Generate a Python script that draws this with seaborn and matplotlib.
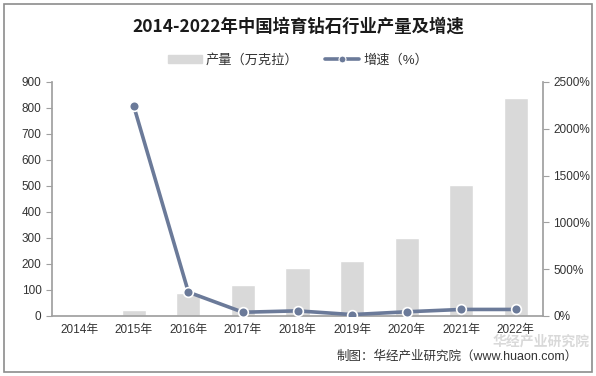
import matplotlib
matplotlib.use("Agg")
import matplotlib.pyplot as plt
import numpy as np
import pandas as pd
import seaborn as sns
from matplotlib.patches import Rectangle
from matplotlib.lines import Line2D
from matplotlib.ticker import FuncFormatter

years = ["2014年", "2015年", "2016年", "2017年", "2018年", "2019年", "2020年", "2021年", "2022年"]
output = [1, 24, 90, 120, 185, 210, 300, 505, 840]          # 万克拉
growth = [np.nan, 2240, 255, 40, 55, 15, 45, 70, 70]         # %

BAR = "#D9D9D9"
LINE = "#6B7A99"
TXT = "#333333"

sns.set_theme(style="white")
plt.rcParams["font.family"] = ["Liberation Sans", "Noto Sans CJK SC", "DejaVu Sans"]

df = pd.DataFrame({"year": years, "output": output, "growth": growth, "pos": np.arange(len(years))})

fig = plt.figure(figsize=(5.96, 3.76), dpi=100)
ax = fig.add_axes([52 / 596, 1 - 316 / 376, 491 / 596, 234 / 376])

sns.barplot(data=df, x="year", y="output", color=BAR, width=0.44, saturation=1, ax=ax)
ax.set_ylim(0, 900)
ax.set_yticks(range(0, 901, 100))
ax.set_xlim(-0.5, len(years) - 0.5)
ax.set_xlabel("")
ax.set_ylabel("")

ax2 = ax.twinx()
sns.lineplot(data=df.dropna(), x="pos", y="growth", color=LINE, linewidth=2.6,
             marker="o", markersize=7, markeredgecolor="white", markeredgewidth=1.2, ax=ax2)
ax2.set_ylim(0, 2500)
ax2.set_yticks(range(0, 2501, 500))
ax2.yaxis.set_major_formatter(FuncFormatter(lambda v, _: f"{v:.0f}%"))
ax2.set_ylabel("")
ax2.set_xlim(-0.5, len(years) - 0.5)

for a in (ax, ax2):
    for s in a.spines.values():
        s.set_visible(False)
    a.tick_params(labelsize=8.5, colors=TXT, length=4, width=0.8, direction="out")
    a.tick_params(axis="y", color="#A0A0A0")

ax.spines["left"].set_visible(True)
ax.spines["left"].set_color("#A0A0A0")
ax.spines["bottom"].set_visible(True)
ax.spines["bottom"].set_color("#A0A0A0")
ax2.spines["right"].set_visible(True)
ax2.spines["right"].set_color("#A0A0A0")

# category labels centred, tick marks on category boundaries
ax.set_xticks(np.arange(len(years)))
ax.set_xticklabels(years)
ax.tick_params(axis="x", length=0, pad=6)
ax.set_xticks(np.arange(len(years) + 1) - 0.5, minor=True)
ax.tick_params(axis="x", which="minor", length=4, color="#A0A0A0", width=0.8)

fig.text(0.5, 1 - 27 / 376, "2014-2022年中国培育钻石行业产量及增速", ha="center", va="center",
         fontsize=12.5, fontweight="bold", color="#1A1A1A",
         family=["Noto Sans CJK SC", "DejaVu Sans"])

handles = [Rectangle((0, 0), 1, 1, color=BAR),
           Line2D([], [], color=LINE, linewidth=2.6, marker="o", markersize=5,
                  markeredgecolor="white", markeredgewidth=0.8)]
fig.legend(handles, ["产量（万克拉）", "增速（%）"], loc="center", ncol=2,
           bbox_to_anchor=(0.5, 1 - 60 / 376), frameon=False, fontsize=9.5,
           handlelength=2.6, handleheight=0.6, columnspacing=2.0, handletextpad=0.3,
           labelcolor=TXT)

# faint watermark, kept in the gap between the category labels and the source line
fig.text(0.99, 1 - 342 / 376, "华经产业研究院", ha="right", va="center", fontsize=10,
         color="#D0D0D0", alpha=0.8, fontweight="bold", family=["Noto Sans CJK SC"])
fig.text(0.97, 1 - 357 / 376, "制图：华经产业研究院（www.huaon.com）", ha="right", va="center",
         fontsize=9, color="#333333")

fig.patches.append(Rectangle((4 / 596, 4 / 376), 588 / 596, 368 / 376, transform=fig.transFigure,
                             fill=False, edgecolor="#8C8C8C", linewidth=1.2))

fig.savefig("out.png", dpi=100)
